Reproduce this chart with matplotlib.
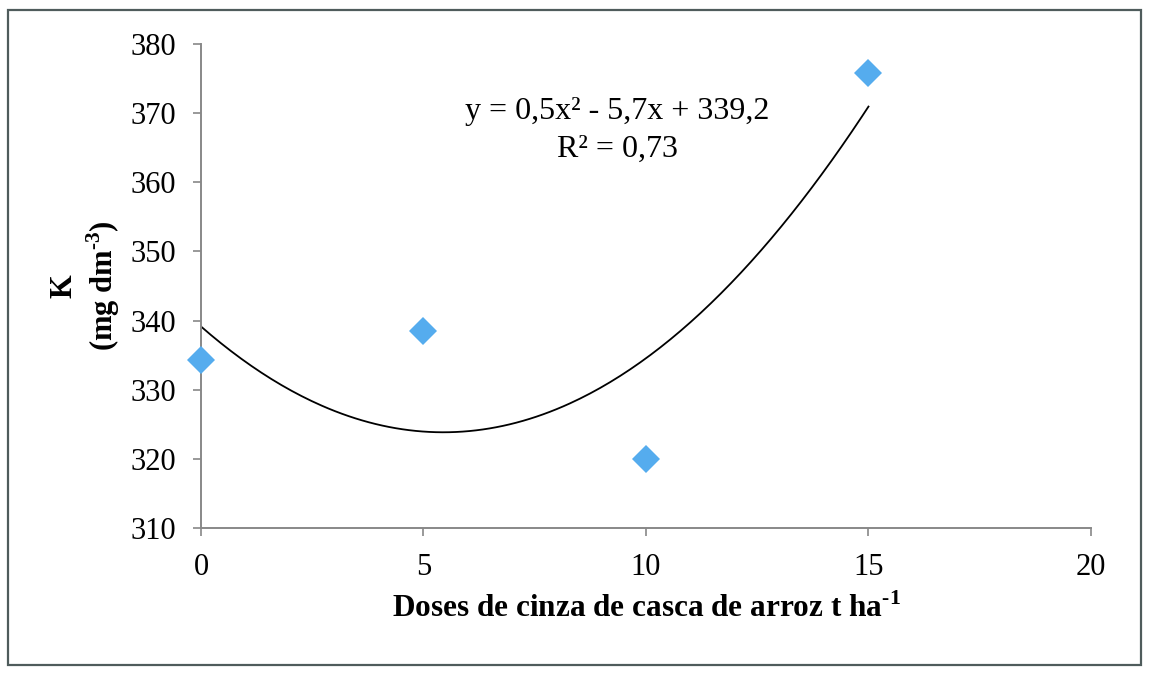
import numpy as np
import matplotlib
matplotlib.use('Agg')
import matplotlib.pyplot as plt
from matplotlib.patches import Rectangle

# ---- data ----
doses = [0, 5, 10, 15]
k_values = [334.3, 338.5, 320.0, 375.8]
x_ticks = [0, 5, 10, 15, 20]
y_ticks = [310, 320, 330, 340, 350, 360, 370, 380]
eq_text = 'y = 0,5x\u00b2 - 5,7x + 339,2'
r2_text = 'R\u00b2 = 0,73'

plt.rcParams['font.family'] = ['Liberation Serif', 'DejaVu Serif']
plt.rcParams['mathtext.fontset'] = 'custom'
plt.rcParams['mathtext.rm'] = 'Liberation Serif'
plt.rcParams['mathtext.bf'] = 'Liberation Serif:bold'

fig = plt.figure(figsize=(11.49, 6.78), dpi=100)
ax = fig.add_axes([0.1749, 0.2212, 0.7746, 0.7139])

# outer frame
fig.patches.append(Rectangle((0.007, 0.019), 0.986, 0.966, transform=fig.transFigure,
                             fill=False, edgecolor='#4f5c5c', linewidth=1.6))

# quadratic trend line (Excel-style polynomial fit)
coef = np.polyfit(doses, k_values, 2)
xs = np.linspace(min(doses), max(doses), 200)
ax.plot(xs, np.polyval(coef, xs), color='black', linewidth=1.3)

ax.plot(doses, k_values, linestyle='none', marker='D', markersize=14.5,
        color='#55acee', markeredgewidth=0, clip_on=False, zorder=3)

ax.text(9.35, 370.2, eq_text, ha='center', va='center', fontsize=23)
ax.text(9.35, 364.8, r2_text, ha='center', va='center', fontsize=23)

ax.set_xlim(0, 20)
ax.set_ylim(310, 380)
ax.set_xticks(x_ticks)
ax.set_yticks(y_ticks)
ax.tick_params(axis='both', labelsize=22, direction='out', length=6, width=1.2,
               color='#888888')
ax.tick_params(axis='y', pad=12)
ax.tick_params(axis='x', pad=12)

for side in ['top', 'right']:
    ax.spines[side].set_visible(False)
for side in ['left', 'bottom']:
    ax.spines[side].set_color('#888888')
    ax.spines[side].set_linewidth(1.4)

ax.set_xlabel(r'Doses de cinza de casca de arroz t ha$^{\mathbf{\text{-}1}}$',
              fontsize=22.5, fontweight='bold', labelpad=8)
ax.set_ylabel('K\n' + r'(mg dm$^{\mathbf{\text{-}3}}$)', fontsize=22, fontweight='bold',
              linespacing=1.2, labelpad=6)

plt.savefig('out.png', dpi=100)
